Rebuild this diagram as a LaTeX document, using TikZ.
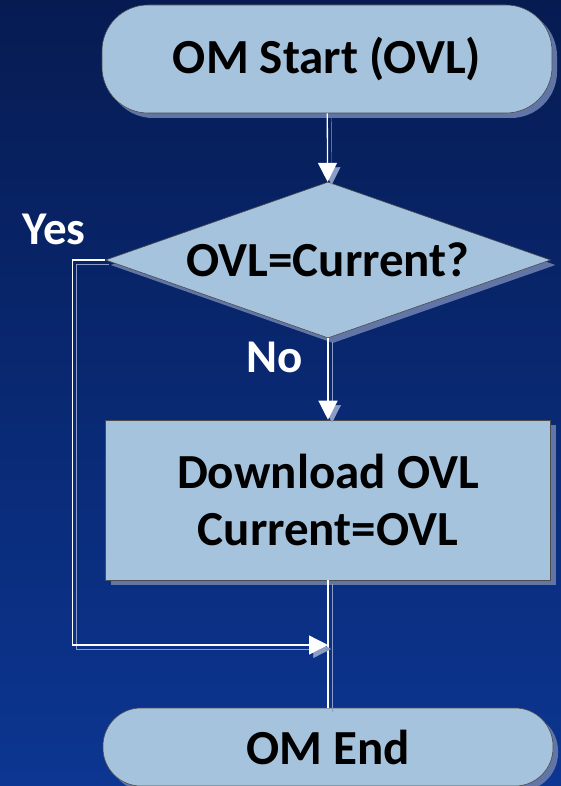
\documentclass[tikz,border=0pt]{standalone}
\usepackage{fontspec}
\setmainfont{Carlito}
\usepackage{tikz}
\usetikzlibrary{shapes.geometric, shapes.misc, arrows.meta, shadows, positioning, calc}
\definecolor{bgtop}{HTML}{061B52}
\definecolor{bgbot}{HTML}{0C3692}
\definecolor{boxfill}{HTML}{A6C3DE}
\definecolor{boxshade}{HTML}{6176A6}
\definecolor{lineshade}{HTML}{8B9CC6}

\begin{document}
\begin{tikzpicture}[x=1pt, y=-1pt,
    shape base/.style={draw=black!70, line width=0.6pt, fill=boxfill, text=black,
        font=\bfseries\fontsize{49}{57}\selectfont, inner sep=0pt,
        drop shadow={shadow xshift=5pt, shadow yshift=-5pt, fill=boxshade, opacity=1}},
    terminal/.style={shape base, rectangle, rounded corners=46pt, minimum width=450pt},
    decision/.style={shape base, diamond, aspect=2.85, minimum width=445pt, minimum height=156pt},
    process/.style={shape base, rectangle, align=center, minimum width=445pt, minimum height=160pt},
    tag/.style={text=white, font=\bfseries\fontsize{47}{52}\selectfont, inner sep=0pt, anchor=base},
    line/.style={draw=white, line width=1.3pt,
        preaction={draw=lineshade, transform canvas={shift={(4pt,-4pt)}}}},
    conn/.style={line, -{Triangle[width=19pt,length=19pt]}}]
\useasboundingbox (0,0) rectangle (561,786);
\shade[top color=bgtop, bottom color=bgbot] (0,0) rectangle (561,786);

\node[terminal, minimum height=108pt] (start) at (327,59) {OM Start (OVL)};
\node[decision] (check) at (328,260) {OVL=Current?};
\node[process] (load) at (328,500) {Download OVL\\Current=OVL};
\node[terminal, minimum height=78pt, rounded corners=38pt] (stop) at (328,747) {OM End};

\node[tag] (yes) at (54,244) {Yes};
\node[tag] (no) at (275,372) {No};
\coordinate (join) at (328,645);

\draw[conn] (start) -- (check);
\draw[conn] (check) -- (load);
\draw[line] (load) -- (stop);
\draw[conn] (check.west) -- ++(-33,0) |- (join);
\end{tikzpicture}
\end{document}
